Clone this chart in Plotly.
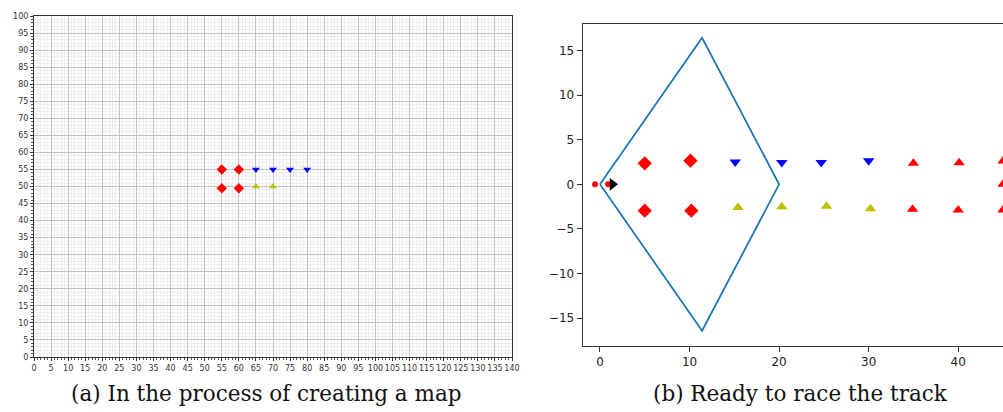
import plotly.graph_objects as go

# ---- Panel (a): map grid ----
a_diamond_x = [55, 60, 55, 60]
a_diamond_y = [55, 55, 49.5, 49.5]
a_blue_x = [65, 70, 75, 80]
a_blue_y = [55, 55, 55, 55]
a_yellow_x = [65, 70]
a_yellow_y = [50, 50]

# ---- Panel (b): track ----
track_x = [0, 11.4, 20, 11.4, 0]
track_y = [0, 16.4, 0, -16.4, 0]
b_dots_x = [-0.55, 0.9]
b_dots_y = [0, 0]
b_car_x = [1.4]
b_car_y = [0]
b_diamond_x = [5, 10.1, 5, 10.2]
b_diamond_y = [2.35, 2.65, -2.95, -2.95]
b_blue_x = [15.1, 20.3, 24.7, 30.0]
b_blue_y = [2.5, 2.45, 2.45, 2.65]
b_yellow_x = [15.4, 20.3, 25.3, 30.2]
b_yellow_y = [-2.6, -2.5, -2.45, -2.75]
b_red_x = [35.0, 40.1, 45.0, 45.0, 34.9, 40.0, 45.0]
b_red_y = [2.35, 2.42, 2.6, 0.0, -2.8, -2.88, -2.88]

a_ticks = list(range(0, 141, 5))
a_yticks = list(range(0, 101, 5))
b_xticks = [0, 10, 20, 30, 40]
b_yticks = [-15, -10, -5, 0, 5, 10, 15]

fig = go.Figure()

def sc(x, y, sym, color, size, xa, ya):
    fig.add_trace(go.Scatter(x=x, y=y, mode="markers", xaxis=xa, yaxis=ya,
                             marker=dict(symbol=sym, color=color, size=size, line=dict(width=0)),
                             showlegend=False, hoverinfo="skip"))

sc(a_diamond_x, a_diamond_y, "diamond", "#ff0000", 8, "x", "y")
sc(a_blue_x, a_blue_y, "triangle-down", "#0000ff", 7, "x", "y")
sc(a_yellow_x, a_yellow_y, "triangle-up", "#bfbf00", 7, "x", "y")

fig.add_trace(go.Scatter(x=track_x, y=track_y, mode="lines", xaxis="x2", yaxis="y2",
                         line=dict(color="#1f77b4", width=1.8), showlegend=False, hoverinfo="skip"))
sc(b_dots_x, b_dots_y, "circle", "#ff0000", 6, "x2", "y2")
sc(b_car_x, b_car_y, "triangle-right", "#000000", 11, "x2", "y2")
sc(b_diamond_x, b_diamond_y, "diamond", "#ff0000", 11, "x2", "y2")
sc(b_blue_x, b_blue_y, "triangle-down", "#0000ff", 10, "x2", "y2")
sc(b_yellow_x, b_yellow_y, "triangle-up", "#bfbf00", 10, "x2", "y2")
sc(b_red_x, b_red_y, "triangle-up", "#ff0000", 10, "x2", "y2")

W, H = 1003, 412

def px(v):
    return v / W

def py(v):
    return 1 - v / H

tickfont_a = dict(family="DejaVu Sans", size=8, color="#333")
tickfont_b = dict(family="DejaVu Sans", size=12, color="#222")

common_a = dict(showgrid=True, gridcolor="#c2c2c2", gridwidth=1, zeroline=False,
                showline=True, linecolor="#333", linewidth=1, mirror=True,
                ticks="outside", ticklen=3, tickwidth=1, tickcolor="#333",
                tickfont=tickfont_a, tickangle=0, automargin=False,
                minor=dict(dtick=1, showgrid=True, gridcolor="#eeeeee", gridwidth=0.8,
                           ticks="outside", ticklen=2, tickcolor="#555"))

fig.update_layout(
    width=W, height=H,
    margin=dict(l=0, r=0, t=0, b=0, autoexpand=False),
    paper_bgcolor="white", plot_bgcolor="white",
    xaxis=dict(domain=[px(34), px(512)], range=[0, 140], tickmode="array",
               tickvals=a_ticks, ticktext=[str(t) for t in a_ticks], anchor="y", **common_a),
    yaxis=dict(domain=[py(357), py(16)], range=[0, 100], tickmode="array",
               tickvals=a_yticks, ticktext=[str(t) for t in a_yticks], anchor="x", **common_a),
    xaxis2=dict(domain=[px(582.7), 1.0], range=[-1.93, 45.0], anchor="y2",
                tickmode="array", tickvals=b_xticks, showgrid=False, zeroline=False,
                showline=True, linecolor="#333", linewidth=1.2, mirror=True, automargin=False,
                ticks="outside", ticklen=5, tickcolor="#333", tickfont=tickfont_b),
    yaxis2=dict(domain=[py(345.7), py(24)], range=[-18.07, 17.95], anchor="x2",
                tickmode="array", tickvals=b_yticks, showgrid=False, zeroline=False,
                showline=True, linecolor="#333", linewidth=1.2, automargin=False,
                ticks="outside", ticklen=5, tickcolor="#333", tickfont=tickfont_b),
    annotations=[
        dict(text="(a) In the process of creating a map", x=px(266), y=py(393),
             xref="paper", yref="paper", showarrow=False, xanchor="center", yanchor="middle",
             font=dict(family="DejaVu Serif", size=21.5, color="#111")),
        dict(text="(b) Ready to race the track", x=px(800), y=py(393),
             xref="paper", yref="paper", showarrow=False, xanchor="center", yanchor="middle",
             font=dict(family="DejaVu Serif", size=21.5, color="#111")),
    ],
)

fig.write_html("out.html", config={"displayModeBar": False},
               post_script="document.body.style.margin='0';document.body.style.overflow='hidden';")
